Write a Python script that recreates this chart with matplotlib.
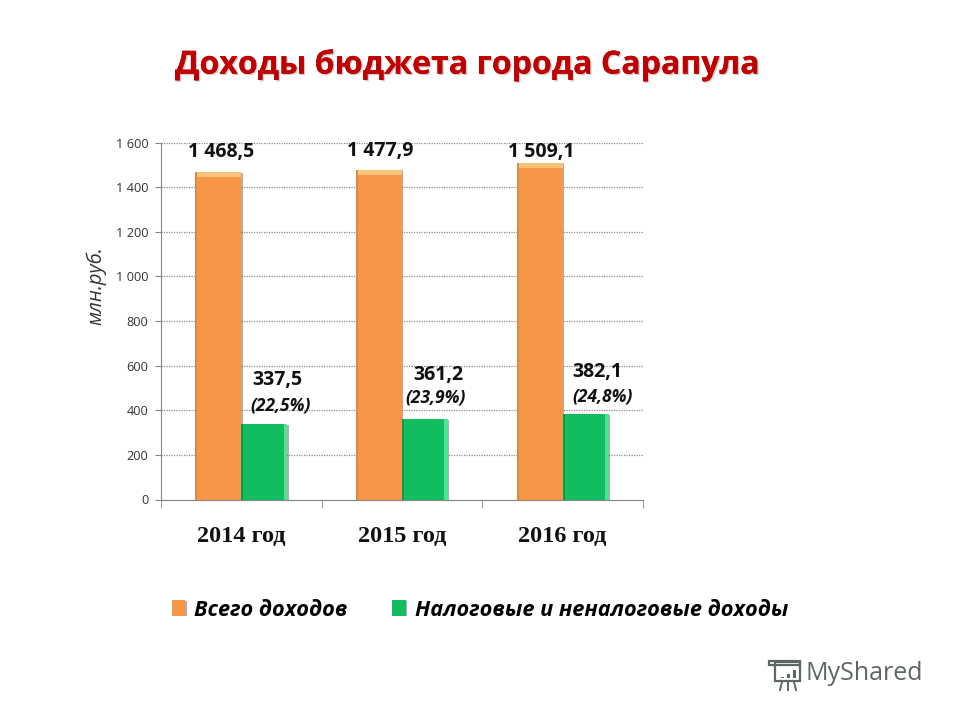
import matplotlib
matplotlib.use('Agg')
from matplotlib import pyplot as plt
from matplotlib import patheffects as pe
from matplotlib.patches import Rectangle, Polygon
import numpy as np

years = ['2014 год', '2015 год', '2016 год']
total_income = [1468.5, 1477.9, 1509.1]
tax_income = [337.5, 361.2, 382.1]
tax_share = ['(22,5%)', '(23,9%)', '(24,8%)']
y_ticks = [0, 200, 400, 600, 800, 1000, 1200, 1400, 1600]
series_names = ['Всего доходов', 'Налоговые и неналоговые доходы']

ORANGE = '#F79646'
ORANGE_TOP = '#FBC27A'
GREEN = '#11BD5F'
GREEN_SIDE = '#4FE39A'
W, H = 960, 720
BAR = 0.286

plt.rcParams['font.family'] = ['Open Sans', 'DejaVu Sans']


def fmt(v, pattern='{:,.1f}'):
    return pattern.format(v).replace(',', ' ').replace('.', ',')


fig = plt.figure(figsize=(9.6, 7.2), dpi=100, facecolor='white')
ax = fig.add_axes([161 / W, 1 - 499.5 / H, 482 / W, 357 / H])
ax.set_xlim(-0.5, 2.5)
ax.set_ylim(0, 1600)

x = np.arange(len(years))
shadow = [pe.withSimplePatchShadow(offset=(1, -0.5), shadow_rgbFace='#7A5A3A', alpha=0.5), pe.Normal()]
bars_total = ax.bar(x - BAR / 2, total_income, BAR, color=ORANGE, zorder=3, path_effects=shadow,
                    label=series_names[0])
bars_tax = ax.bar(x + BAR / 2, tax_income, BAR, color=GREEN, zorder=3, path_effects=shadow,
                  label=series_names[1])

# bevel on the bars, same values as the bars themselves
ax.bar(x - BAR / 2, [22] * 3, BAR, bottom=np.array(total_income) - 22, color=ORANGE_TOP, zorder=4)
ax.bar(x + BAR / 2 + BAR * 0.46, tax_income, BAR * 0.08, color=GREEN_SIDE, zorder=4)
ax.bar(x - BAR / 2 - BAR * 0.48, total_income, BAR * 0.04, color='#D98A45', zorder=4)
ax.bar(x + BAR / 2 - BAR * 0.48, tax_income, BAR * 0.04, color='#0E9A4E', zorder=4)

ax.set_yticks(y_ticks, [fmt(t, '{:,d}') for t in y_ticks])
ax.tick_params(axis='y', length=4, color='#868686', labelsize=9.2, labelcolor='#333333', pad=5)
ax.set_xticks(x, years, fontfamily='Liberation Serif', fontweight='bold', fontsize=17.5, color='#111111')
ax.tick_params(axis='x', which='major', length=0, pad=19)
ax.set_xticks(np.arange(len(years) + 1) - 0.5, minor=True)
ax.tick_params(axis='x', which='minor', length=6, color='#868686')
ax.grid(axis='y', linestyle=(0, (1, 1)), color='#8A8A8A', linewidth=0.9, zorder=0)
ax.set_axisbelow(True)
for side in ['top', 'right']:
    ax.spines[side].set_visible(False)
for side in ['left', 'bottom']:
    ax.spines[side].set_color('#868686')

# value labels do not sit at one fixed distance in the original
total_offsets = [(3, 20), (1, 19), (2, 11)]
tax_offsets = [(13, 44), (13, 44), (12, 42)]
share_offsets = [(16, 19), (11, 21), (17, 18)]
for i in range(len(years)):
    ax.annotate(fmt(total_income[i]), (x[i] - BAR / 2, total_income[i]), xytext=total_offsets[i],
                textcoords='offset pixels', ha='center', va='center', fontsize=14,
                fontweight='bold', color='#111111', annotation_clip=False, zorder=6)
    ax.annotate(fmt(tax_income[i]), (x[i] + BAR / 2, tax_income[i]), xytext=tax_offsets[i],
                textcoords='offset pixels', ha='center', va='center', fontsize=14,
                fontweight='bold', color='#111111', zorder=6)
    ax.annotate(tax_share[i], (x[i] + BAR / 2, tax_income[i]), xytext=share_offsets[i],
                textcoords='offset pixels', ha='center', va='center', fontsize=12.5,
                fontweight='bold', fontstyle='italic', color='#111111', zorder=6)

fig.text(96 / W, 1 - 286 / H, 'млн.руб.', rotation=90, ha='center', va='center',
         fontsize=14.5, fontstyle='italic', color='#333333')

title = fig.text(468 / W, 1 - 65 / H, 'Доходы бюджета города Сарапула', ha='center', va='center',
                 fontsize=23.1, fontweight='bold', color='#C00000')
title.set_path_effects([pe.withSimplePatchShadow(offset=(1, -1), shadow_rgbFace='#AAAAAA', alpha=0.6),
                        pe.Normal()])

fig.legend(handles=[bars_total, bars_tax], labels=series_names, loc='center left',
           bbox_to_anchor=(152 / W, 1 - 610 / H), ncol=2, frameon=False,
           prop={'size': 15.7, 'style': 'italic', 'weight': 'bold'},
           handlelength=0.63, handleheight=0.7, handletextpad=0.4, columnspacing=2.05)

# watermark
fig.text(805 / W, 1 - 674 / H, 'MyShared', ha='left', va='center', fontsize=18,
         color='#5F6668', fontfamily='Open Sans')
icon = dict(transform=fig.transFigure, fill=False, edgecolor='#5F6668', linewidth=1.6)
fig.add_artist(Rectangle((775 / W, 1 - 681 / H), 25 / W, 19 / H, **icon))
fig.add_artist(Polygon([(769 / W, 1 - 661 / H), (800 / W, 1 - 661 / H), (800 / W, 1 - 665 / H),
                        (769 / W, 1 - 665 / H)], closed=True, **icon))
for px, top in zip([781, 787, 793], [677, 674, 670]):
    fig.add_artist(Rectangle((px / W, 1 - 678 / H), 3 / W, (678 - top) / H, transform=fig.transFigure,
                             facecolor='#5F6668', edgecolor='none'))
for x0, x1 in zip([782, 788, 794], [780, 788, 796]):
    fig.add_artist(plt.Line2D([x0 / W, x1 / W], [1 - 682 / H, 1 - 690 / H], transform=fig.transFigure,
                              color='#5F6668', linewidth=1.4))

fig.savefig('out.png', dpi=100)
